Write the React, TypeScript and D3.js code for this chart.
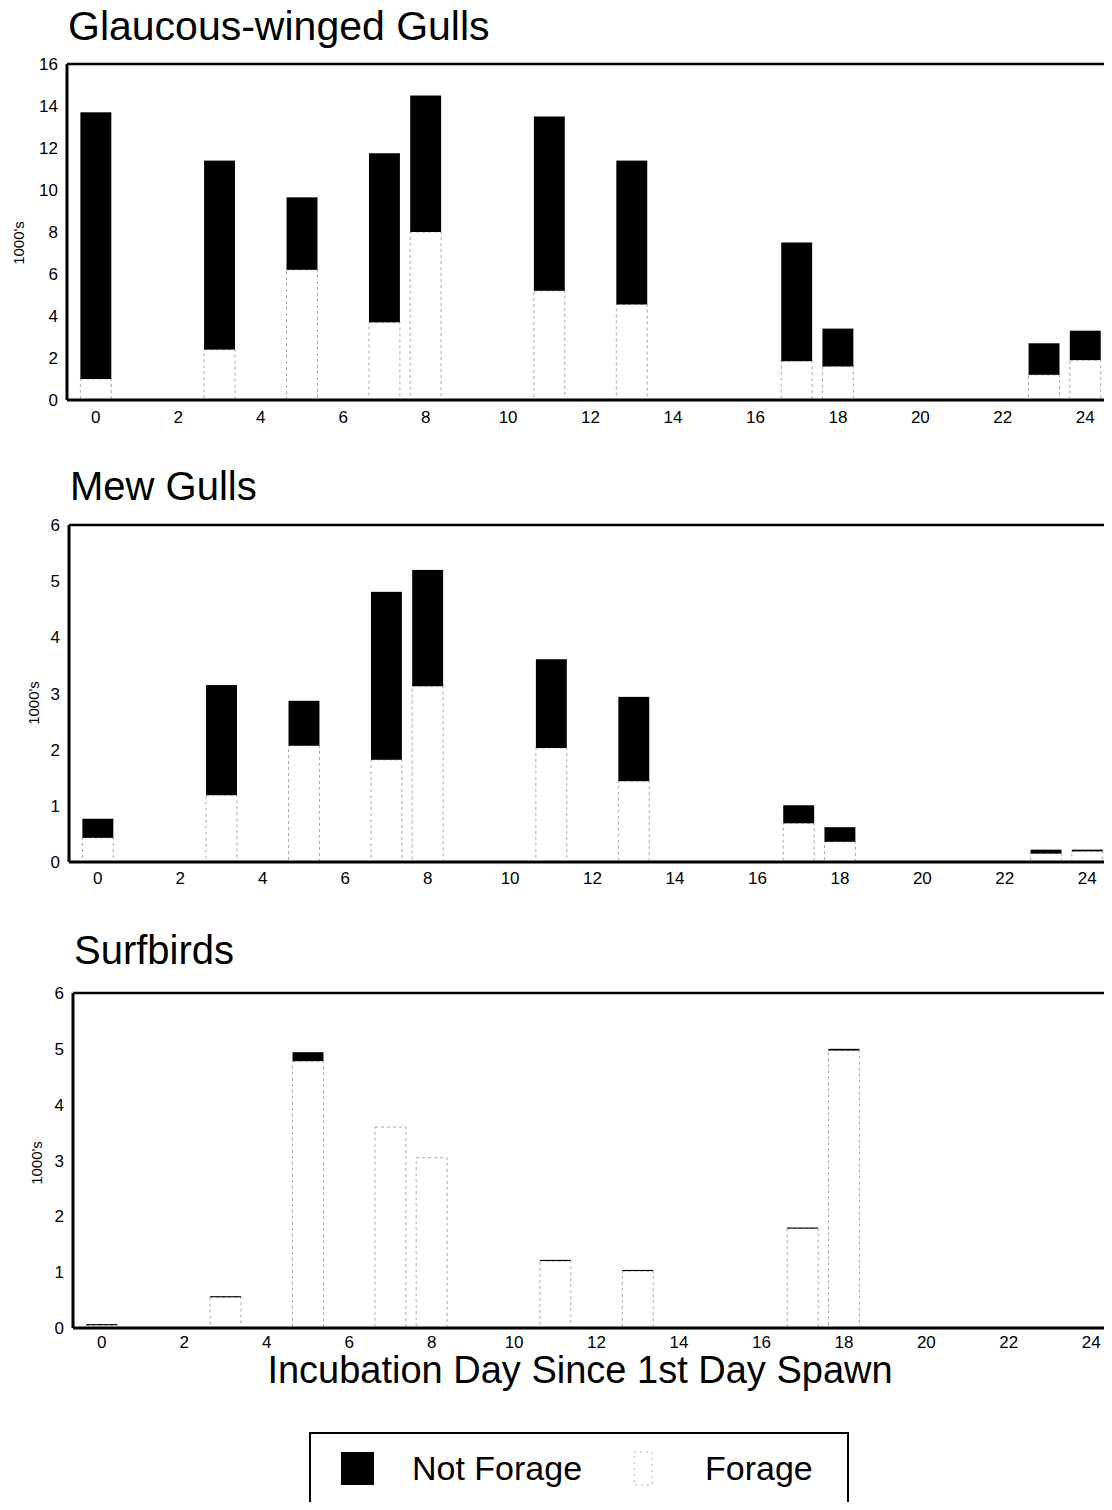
import React from 'react';
import * as d3 from 'd3';

// incubation days with counts
const days = [0, 3, 5, 7, 8, 11, 13, 17, 18, 23, 24];

// Glaucous-winged Gulls (1000's)
const gwForage = [1.0, 2.4, 6.2, 3.7, 8.0, 5.2, 4.55, 1.85, 1.6, 1.2, 1.9];
const gwNotForage = [12.7, 9.0, 3.45, 8.05, 6.5, 8.3, 6.85, 5.65, 1.8, 1.5, 1.4];

// Mew Gulls (1000's)
const mewForage = [0.43, 1.19, 2.07, 1.82, 3.13, 2.03, 1.44, 0.69, 0.36, 0.15, 0.19];
const mewNotForage = [0.34, 1.96, 0.8, 2.99, 2.07, 1.58, 1.5, 0.32, 0.26, 0.07, 0.03];

// Surfbirds (1000's)
const sbForage = [0.05, 0.55, 4.78, 3.6, 3.05, 1.2, 1.02, 1.78, 4.97, 0, 0];
const sbNotForage = [0.02, 0.02, 0.16, 0, 0, 0.02, 0.02, 0.02, 0.03, 0, 0];

const xTicks = [0, 2, 4, 6, 8, 10, 12, 14, 16, 18, 20, 22, 24];
const gwTicks = [0, 2, 4, 6, 8, 10, 12, 14, 16];
const smallTicks = [0, 1, 2, 3, 4, 5, 6];

const FONT = '"Liberation Sans", Arial, sans-serif';

const panels = [
  { title: 'Glaucous-winged Gulls', forage: gwForage, notForage: gwNotForage, yMax: 16, yTicks: gwTicks,
    left: 67, top: 64, bottom: 400, titleY: 40, titleSize: 41, labelX: 24, labelY: 243, tickDy: 23 },
  { title: 'Mew Gulls', forage: mewForage, notForage: mewNotForage, yMax: 6, yTicks: smallTicks,
    left: 69, top: 525, bottom: 862, titleY: 500, titleSize: 40, labelX: 39, labelY: 703, tickDy: 22 },
  { title: 'Surfbirds', forage: sbForage, notForage: sbNotForage, yMax: 6, yTicks: smallTicks,
    left: 73, top: 993, bottom: 1328, titleY: 964, titleSize: 40, labelX: 42, labelY: 1163, tickDy: 20 },
];

const Panel = ({ p }) => {
  const x = d3.scaleLinear().domain([-0.7, 24.6]).range([p.left, p.left + 1043]);
  const y = d3.scaleLinear().domain([0, p.yMax]).range([p.bottom, p.top]);
  const bw = x(0.75) - x(0);
  return (
    <g>
      <text x={p.left + 1} y={p.titleY} fontSize={p.titleSize} fontFamily={FONT}>{p.title}</text>
      <text transform={`translate(${p.labelX},${p.labelY}) rotate(-90)`} textAnchor="middle"
        fontSize={15} fontFamily={FONT}>1000's</text>
      {days.map((d, i) => {
        const f = p.forage[i];
        const n = p.notForage[i];
        return (
          <g key={d}>
            {f > 0 && (
              <rect x={x(d) - bw / 2} y={y(f)} width={bw} height={y(0) - y(f)}
                fill="#fff" stroke="#a8a8a8" strokeWidth={1} strokeDasharray="3,3" />
            )}
            {n > 0 && (
              <rect x={x(d) - bw / 2} y={y(f + n)} width={bw} height={Math.max(1, y(f) - y(f + n))}
                fill="#000" />
            )}
          </g>
        );
      })}
      {/* frame */}
      <line x1={p.left} x2={x(24.6)} y1={p.top} y2={p.top} stroke="#000" strokeWidth={2.5} />
      <line x1={p.left} x2={x(24.6)} y1={p.bottom} y2={p.bottom} stroke="#000" strokeWidth={3} />
      <line x1={p.left} x2={p.left} y1={p.top} y2={p.bottom} stroke="#000" strokeWidth={3} />
      <line x1={x(24.6)} x2={x(24.6)} y1={p.top} y2={p.top + (p.bottom - p.top) * 0.45}
        stroke="#888" strokeWidth={1} />
      {p.yTicks.map(t => (
        <text key={t} x={p.left - 9} y={y(t) + 6} textAnchor="end" fontSize={17} fontFamily={FONT}>{t}</text>
      ))}
      {xTicks.map(t => (
        <text key={t} x={x(t)} y={p.bottom + p.tickDy} textAnchor="middle" fontSize={17} fontFamily={FONT}>{t}</text>
      ))}
    </g>
  );
};

const App = () => (
  <svg width={1112} height={1510} style={{ display: 'block', margin: '-8px', background: '#fff' }}>
    <rect width={1112} height={1510} fill="#fff" />
    {panels.map(p => <Panel key={p.title} p={p} />)}
    <text x={580} y={1383} textAnchor="middle" fontSize={38} fontFamily={FONT}>
      Incubation Day Since 1st Day Spawn
    </text>
    <rect x={310} y={1433} width={538} height={73} fill="#fff" stroke="#000" strokeWidth={2} />
    <rect x={341} y={1452} width={33} height={33} fill="#000" />
    <text x={412} y={1480} fontSize={34} fontFamily={FONT}>Not Forage</text>
    <rect x={634} y={1452} width={18} height={33} fill="#fff" stroke="#b0b0b0" strokeWidth={1} strokeDasharray="2,4" />
    <text x={705} y={1480} fontSize={34} fontFamily={FONT}>Forage</text>
  </svg>
);

export default App;
